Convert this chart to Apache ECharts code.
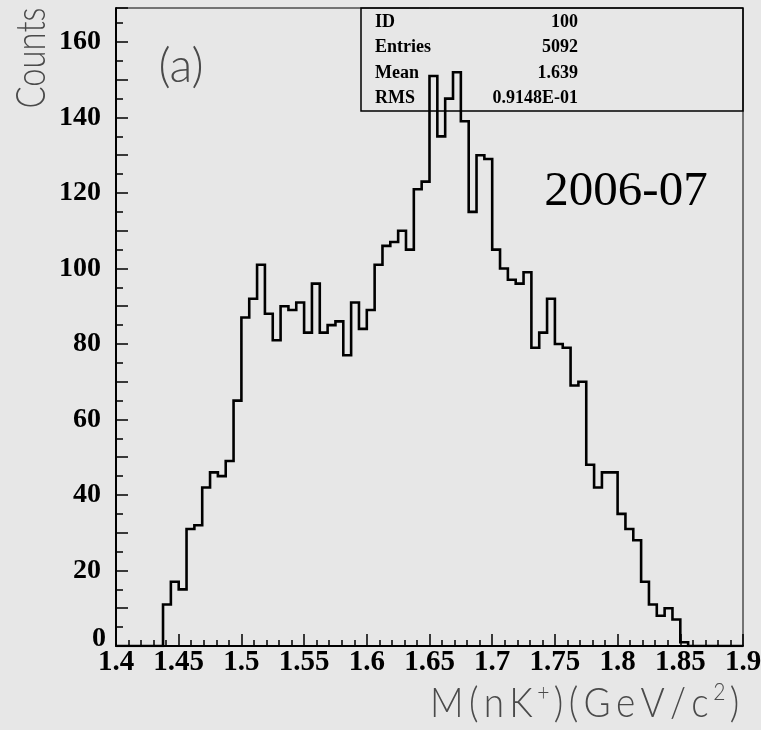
<!DOCTYPE html>
<html>
<head>
<meta charset="utf-8">
<script src="https://cdn.jsdelivr.net/npm/echarts@6/dist/echarts.min.js"></script>
<style>
  html, body { margin: 0; padding: 0; background: #e6e6e6; }
  #chart { width: 761px; height: 730px; }
</style>
</head>
<body>
<div id="chart"></div>
<script>
// Binning of the invariant-mass histogram (80 bins, 1.4 - 1.9 GeV/c^2)
const binLow = 1.4;
const binHigh = 1.9;
const nBins = 80;

// Entries per bin
const counts = [
  0, 0, 0, 0, 0, 0, 11, 17, 15, 31,
  32, 42, 46, 45, 49, 65, 87, 92, 101, 88,
  81, 90, 89, 91, 83, 96, 83, 85, 86, 77,
  91, 84, 89, 101, 106, 107, 110, 105, 121, 123,
  151, 135, 145, 152, 139, 115, 130, 129, 105, 100,
  97, 96, 99, 79, 83, 92, 80, 79, 69, 70,
  48, 42, 46, 46, 35, 31, 28, 17, 11, 8,
  10, 7, 1, 0, 0, 0, 0, 0, 0, 0
];

// Axis tick labels
const xTickLabels = ['1.4', '1.45', '1.5', '1.55', '1.6', '1.65', '1.7', '1.75', '1.8', '1.85', '1.9'];
const yTickLabels = ['0', '20', '40', '60', '80', '100', '120', '140', '160'];

// Statistics box
const statNames = ['ID', 'Entries', 'Mean', 'RMS'];
const statValues = ['100', '5092', '1.639', '0.9148E-01'];

const yTitle = 'Counts';
const panelTag = '(a)';
const periodTag = '2006-07';
// x-axis title pieces: [text, isSuperscript]
const xTitleParts = [['M(nK', false], ['+', true], [')(GeV/c', false], ['2', true], [')', false]];

// Step outline: left edge of every bin plus the upper edge of the last one
const binWidth = (binHigh - binLow) / nBins;
const stepPoints = counts.map((c, k) => [binLow + k * binWidth, c]);
stepPoints.push([binHigh, counts[nBins - 1]]);

const thinFont = 'Lato, "DejaVu Sans", sans-serif';
const serifFont = '"Liberation Serif", "Times New Roman", serif';
const titleGrey = '#4a4a4a';

// Spread-out lettering built from one rich fragment per character
function spacedRich(parts) {
  return parts.map(([txt, sup]) =>
    txt.split('').map(ch => '{' + (sup ? 's' : 'c') + '|' + ch + '}').join('')
  ).join('');
}

const chart = echarts.init(document.getElementById('chart'), null, { renderer: 'canvas' });

const statGraphics = [];
statNames.forEach((name, i) => {
  const cy = 22 + i * 25.5;
  statGraphics.push({
    type: 'text', x: 375, y: cy, z: 10,
    style: { text: name, font: 'bold 18px ' + serifFont, fill: '#000', textAlign: 'left', textVerticalAlign: 'middle' }
  });
  statGraphics.push({
    type: 'text', x: 578, y: cy, z: 10,
    style: { text: statValues[i], font: 'bold 18px ' + serifFont, fill: '#000', textAlign: 'right', textVerticalAlign: 'middle' }
  });
});

const yLabelStyle = { fontFamily: serifFont, fontWeight: 'bold', fontSize: 28, color: '#000' };

chart.setOption({
  backgroundColor: '#e7e7e7',
  animation: false,
  grid: {
    left: 116, right: 18, top: 8, bottom: 84,
    outerBoundsMode: 'none', containLabel: false,
    show: true, borderColor: '#000', borderWidth: 1, backgroundColor: 'transparent'
  },
  xAxis: {
    type: 'value', min: binLow, max: binHigh, interval: 0.05,
    axisLine: { show: true, onZero: false, lineStyle: { color: '#000', width: 2 } },
    axisTick: { show: true, inside: true, length: 12, lineStyle: { color: '#000', width: 1.5 } },
    minorTick: { show: true, splitNumber: 5, length: 6, lineStyle: { color: '#000', width: 1.5 } },
    splitLine: { show: false },
    axisLabel: {
      margin: 2, color: '#000', fontFamily: serifFont, fontWeight: 'bold', fontSize: 29,
      showMinLabel: true, showMaxLabel: true, hideOverlap: false,
      formatter: v => xTickLabels[Math.round((v - binLow) / 0.05)] || ''
    }
  },
  yAxis: {
    type: 'value', min: 0, max: 169, interval: 10,
    axisLine: { show: true, lineStyle: { color: '#000', width: 2 } },
    axisTick: { show: true, inside: true, length: 12, lineStyle: { color: '#000', width: 1.5 } },
    minorTick: { show: true, splitNumber: 2, length: 7, lineStyle: { color: '#000', width: 1.5 } },
    splitLine: { show: false },
    axisLabel: {
      margin: 10, color: '#000', fontFamily: serifFont, fontWeight: 'bold', fontSize: 28,
      showMaxLabel: false, hideOverlap: false,
      formatter: v => {
        if (v % 20 !== 0) return '';
        const t = yTickLabels[v / 20] || '';
        return v === 0 ? '{z|' + t + '}' : '{n|' + t + '}';
      },
      rich: {
        n: Object.assign({ padding: [0, 5, 0, 0] }, yLabelStyle),
        z: Object.assign({ padding: [0, 0, 14, 0] }, yLabelStyle)
      }
    }
  },
  series: [{
    type: 'line',
    step: 'end',
    data: stepPoints,
    showSymbol: false,
    symbol: 'none',
    clip: true,
    lineStyle: { color: '#000', width: 2.6, join: 'miter' },
    z: 3
  }],
  graphic: [
    {
      type: 'rect', z: 10,
      shape: { x: 361, y: 8, width: 382, height: 103 },
      style: { fill: 'none', stroke: '#000', lineWidth: 1.5 }
    },
    ...statGraphics,
    {
      type: 'text', x: 31, y: 58, rotation: Math.PI / 2, scaleX: 0.78,
      style: { text: yTitle, font: '300 42px ' + thinFont, fill: titleGrey, textAlign: 'center', textVerticalAlign: 'middle' }
    },
    {
      type: 'text', x: 181, y: 67, scaleX: 1.0,
      style: { text: panelTag, font: '300 47px ' + thinFont, fill: titleGrey, textAlign: 'center', textVerticalAlign: 'middle' }
    },
    {
      type: 'text', x: 626, y: 192,
      style: { text: periodTag, font: '49px ' + serifFont, fill: '#000', textAlign: 'center', textVerticalAlign: 'middle' }
    },
    {
      type: 'text', x: 742, y: 703, scaleX: 0.88,
      style: {
        text: spacedRich(xTitleParts),
        textAlign: 'right', textVerticalAlign: 'middle',
        rich: {
          c: { font: '300 42px ' + thinFont, fill: titleGrey, padding: [0, 3, 0, 3] },
          s: { font: '300 24px ' + thinFont, fill: titleGrey, padding: [0, 2, 22, 2] }
        }
      }
    }
  ]
});
</script>
</body>
</html>
